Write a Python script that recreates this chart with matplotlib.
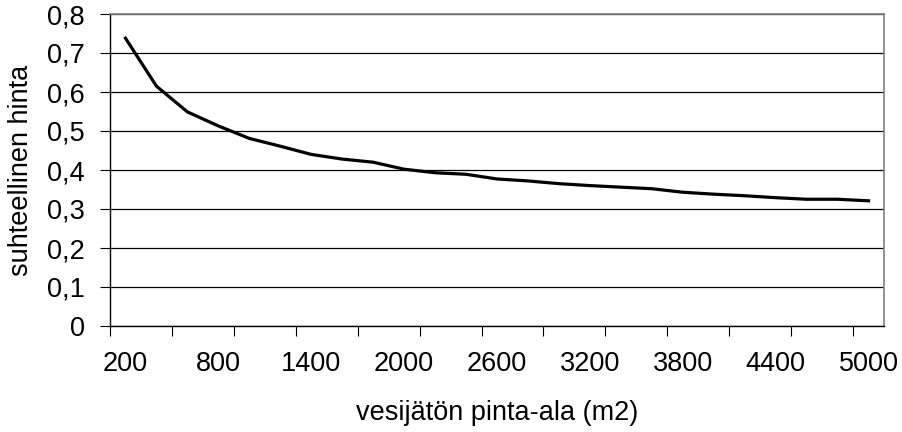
import numpy as np
import matplotlib.pyplot as plt

plt.rcParams['font.family'] = ['Liberation Sans', 'DejaVu Sans']

# pinta-ala luokat (m2) ja suhteellinen hinta
ala = [200, 400, 600, 800, 1000, 1200, 1400, 1600, 1800, 2000, 2200, 2400,
       2600, 2800, 3000, 3200, 3400, 3600, 3800, 4000, 4200, 4400, 4600, 4800, 5000]
hinta = [0.738, 0.615, 0.549, 0.513, 0.481, 0.461, 0.440, 0.428, 0.420, 0.402,
         0.393, 0.389, 0.377, 0.372, 0.365, 0.360, 0.356, 0.352, 0.343, 0.338,
         0.334, 0.329, 0.325, 0.325, 0.321]
y_ticks = [0, 0.1, 0.2, 0.3, 0.4, 0.5, 0.6, 0.7, 0.8]

fs = 19.5

fig = plt.figure(figsize=(9.02, 4.32), dpi=100)
ax = fig.add_axes([110/902, 1-326/432, 774/902, 312/432])

x = np.arange(len(ala))
ax.plot(x, hinta, color='black', lw=2.3, solid_joinstyle='round')

ax.set_xlim(-0.5, len(ala)-0.5)
ax.set_ylim(0, 0.8)

# y-akseli
ax.set_yticks(y_ticks)
ax.set_yticklabels([('%g' % v).replace('.', ',') for v in y_ticks])
ax.grid(axis='y', color='black', lw=0.9)
ax.tick_params(axis='y', length=7, width=0.8, pad=11, labelsize=fs)

# x-akseli: merkit joka toisen luokan välissä, tekstit joka kolmannella
ax.set_xticks(np.arange(-0.5, len(ala), 2))
ax.set_xticklabels([])
ax.set_xticks(x[::3], minor=True)
ax.set_xticklabels([str(a) for a in ala[::3]], minor=True)
ax.tick_params(axis='x', which='major', length=7, width=0.8)
ax.tick_params(axis='x', which='minor', length=0, pad=18, labelsize=fs)

for s in ['left', 'bottom']:
    ax.spines[s].set_color('black')
    ax.spines[s].set_linewidth(1.0)
for s in ['top', 'right']:
    ax.spines[s].set_color('#808080')
    ax.spines[s].set_linewidth(1.2)

fig.text(21/902, 1-170/432, 'suhteellinen hinta', rotation=90, ha='center', va='center', fontsize=fs)
fig.text(497/902, 1-413/432, 'vesijätön pinta-ala (m2)', ha='center', va='center', fontsize=fs)

fig.savefig('out.png', dpi=100)
